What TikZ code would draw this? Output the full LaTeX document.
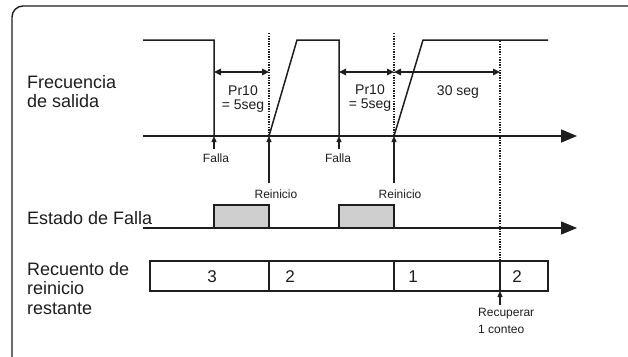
\documentclass[tikz,border=0pt]{standalone}
\usepackage{fontspec}
\setmainfont{Liberation Sans}
\usetikzlibrary{arrows.meta}
\definecolor{ink}{HTML}{1E1E1E}
\definecolor{faultgray}{HTML}{CFCFCF}
\begin{document}
\begin{tikzpicture}[x=1pt,y=-1pt,
  sig/.style={line width=1.5pt, draw=ink, line join=miter},
  axisline/.style={line width=1.5pt, draw=ink, -{Triangle[length=16pt,width=13pt]}},
  guide/.style={line width=1.3pt, draw=ink, dash pattern=on 1.3pt off 1.3pt},
  dimline/.style={line width=1.4pt, draw=ink, {Triangle[length=7pt,width=6.5pt]}-{Triangle[length=7pt,width=6.5pt]}},
  evarrow/.style={line width=1.2pt, draw=ink, -{Triangle[length=6pt,width=5pt]}},
  boxline/.style={line width=1.3pt, draw=ink},
  biglabel/.style={font=\fontsize{18}{20}\selectfont, text=ink, inner sep=0pt, anchor=base west},
  midlabel/.style={font=\fontsize{14}{16}\selectfont, text=ink, inner sep=0pt, anchor=base},
  smalllabel/.style={font=\fontsize{12}{14}\selectfont, text=ink, inner sep=0pt, anchor=base},
  digit/.style={font=\fontsize{17}{19}\selectfont, text=ink, inner sep=0pt, anchor=base}
]
\useasboundingbox (0,0) rectangle (628,356);
\clip (0,0) rectangle (628,356);
\fill[white] (0,0) rectangle (628,356);

% frame
\draw[line width=1.4pt, draw=ink, rounded corners=11pt] (12,6) rectangle (645,380);

% left labels
\node[biglabel] (lF1) at (27,88) {Frecuencia};
\node[biglabel] (lF2) at (27,107) {de salida};
\node[biglabel] (lE) at (27,224) {Estado de Falla};
\node[biglabel] (lR1) at (27,275) {Recuento de};
\node[biglabel] (lR2) at (27,294) {reinicio};
\node[biglabel] (lR3) at (27,314) {restante};

% key coordinates
\coordinate (s0) at (143,40);
\coordinate (f1t) at (214,40);
\coordinate (f1b) at (214,136);
\coordinate (r1b) at (269,136);
\coordinate (r1t) at (297,40);
\coordinate (f2t) at (339,40);
\coordinate (f2b) at (339,136);
\coordinate (r2b) at (394,136);
\coordinate (r2t) at (423,40);
\coordinate (s1) at (548,40);

\coordinate (ax1s) at (143,136);
\coordinate (ax1e) at (577,136);
\coordinate (ax2s) at (143,228);
\coordinate (ax2e) at (577,228);

% output frequency axis and signal
\draw[axisline] (ax1s) -- (ax1e);
\draw[sig] (s0) -- (f1t) -- (f1b) -- (r1b) -- (r1t) -- (f2t) -- (f2b) -- (r2b) -- (r2t) -- (s1);

% guides
\coordinate (g1t) at (269,33);
\coordinate (g2t) at (394,33);
\coordinate (g3t) at (500,41);
\coordinate (g3b) at (500,261);
\draw[guide] (g1t) -- (r1b);
\draw[guide] (g2t) -- (r2b);
\draw[guide] (g3t) -- (g3b);

% dimension arrows
\coordinate (d1a) at (214,72);
\coordinate (d1b) at (269,72);
\coordinate (d2a) at (339,72);
\coordinate (d2b) at (394,72);
\coordinate (d3b) at (500,72);
\draw[dimline] (d1a) -- (d1b);
\draw[dimline] (d2a) -- (d2b);
\draw[dimline] (d2b) -- (d3b);
\node[midlabel] (p1a) at (243,95) {Pr10};
\node[midlabel] (p1b) at (243,109) {= 5seg};
\node[midlabel] (p2a) at (370,94) {Pr10};
\node[midlabel] (p2b) at (370,108) {= 5seg};
\node[midlabel] (t30) at (458,95) {30 seg};

% event arrows
\coordinate (fa1) at (214,149);
\coordinate (fa2) at (339,149);
\coordinate (re1) at (269,183);
\coordinate (re2) at (394,183);
\draw[evarrow] (fa1) -- (f1b);
\draw[evarrow] (fa2) -- (f2b);
\draw[evarrow] (re1) -- (r1b);
\draw[evarrow] (re2) -- (r2b);
\node[smalllabel] (lf1) at (216,162) {Falla};
\node[smalllabel] (lf2) at (338,162) {Falla};
\node[smalllabel] (lr1) at (276,198) {Reinicio};
\node[smalllabel] (lr2) at (400,198) {Reinicio};

% fault state
\draw[boxline, fill=faultgray] (214,228) rectangle (269,205);
\draw[boxline, fill=faultgray] (339,228) rectangle (394,205);
\draw[axisline] (ax2s) -- (ax2e);

% restart count
\draw[boxline] (150,261) rectangle (548,291);
\draw[boxline] (269,261) -- (269,291);
\draw[boxline] (394,261) -- (394,291);
\draw[boxline] (500,261) -- (500,291);
\node[digit] (c3) at (212,282) {3};
\node[digit] (c2a) at (290,282) {2};
\node[digit] (c1) at (413,282) {1};
\node[digit] (c2b) at (517,282) {2};

% recover
\coordinate (rc) at (500,305);
\coordinate (rct) at (500,291);
\draw[evarrow] (rc) -- (rct);
\node[smalllabel, anchor=base west] (rec1) at (478,316) {Recuperar};
\node[smalllabel, anchor=base west] (rec2) at (478,333) {1 conteo};
\end{tikzpicture}
\end{document}
